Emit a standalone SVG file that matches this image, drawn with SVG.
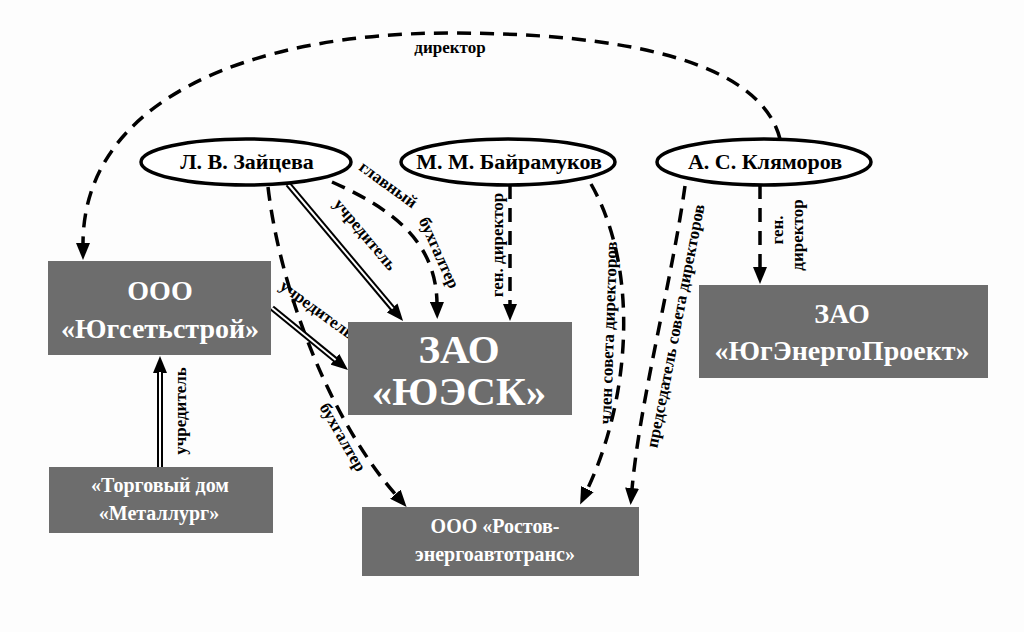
<svg xmlns="http://www.w3.org/2000/svg" width="1024" height="632" viewBox="0 0 1024 632">
<defs>
<marker id="ah" markerUnits="userSpaceOnUse" markerWidth="18" markerHeight="14" refX="1" refY="7" orient="auto" viewBox="0 0 18 14"><path d="M0,0 L17,7 L0,14 z" fill="#000"/></marker>
</defs>
<rect width="1024" height="632" fill="#fdfdfd"/>

<g id="connectors">
<g fill="none" stroke="#000" stroke-width="3.5" stroke-dasharray="14 9" marker-end="url(#ah)">
<path d="M 780 139 C 760 60 620 33 450 33 C 250 33 83 100 83 244"/>
<path d="M 332 182 C 390 208 436 240 437 303"/>
<path d="M 268 187 C 280 290 330 420 396 495"/>
<path d="M 510 185 L 510 305"/>
<path d="M 591 184 C 640 270 630 400 587 490"/>
<path d="M 685 186 C 672 280 640 400 632 489"/>
<path d="M 760 185 L 760 268"/>
</g>
<g fill="none" stroke="#000" stroke-width="6" marker-end="url(#ah)">
<path d="M 288 184 L 392.8 308.7"/>
<path d="M 272 308 L 335.6 359.9"/>
<path d="M 160 467 L 160 372"/>
</g>
<g fill="none" stroke="#fff" stroke-width="2">
<path d="M 288 184 L 392.8 308.7"/>
<path d="M 272 308 L 335.6 359.9"/>
<path d="M 160 467 L 160 372"/>
</g>
<text font-family="Liberation Serif" font-weight="bold" font-size="17" text-anchor="middle" x="450" y="53">директор</text>
<text font-family="Liberation Serif" font-weight="bold" font-size="17" text-anchor="middle" transform="translate(361,238) rotate(50)">учредитель</text>
<text font-family="Liberation Serif" font-weight="bold" font-size="17" text-anchor="middle" transform="translate(385,189) rotate(36)">главный</text>
<text font-family="Liberation Serif" font-weight="bold" font-size="17" text-anchor="middle" transform="translate(434,255) rotate(66)">бухгалтер</text>
<text font-family="Liberation Serif" font-weight="bold" font-size="17" text-anchor="middle" transform="translate(338,440) rotate(60)">бухгалтер</text>
<text font-family="Liberation Serif" font-weight="bold" font-size="17" text-anchor="middle" transform="translate(314,314) rotate(36)">учредитель</text>
<text font-family="Liberation Serif" font-weight="bold" font-size="17" text-anchor="middle" transform="translate(186,411) rotate(-90)">учредитель</text>
<text font-family="Liberation Serif" font-weight="bold" font-size="17" text-anchor="middle" transform="translate(503,245) rotate(-90)">ген. директор</text>
<text font-family="Liberation Serif" font-weight="bold" font-size="17" text-anchor="middle" transform="translate(614,333) rotate(-88)">член совета директоров</text>
<text font-family="Liberation Serif" font-weight="bold" font-size="17" text-anchor="middle" transform="translate(681,327) rotate(-79)">председатель совета директоров</text>
<text font-family="Liberation Serif" font-weight="bold" font-size="17" text-anchor="middle" transform="translate(783,230) rotate(-90)">ген.</text>
<text font-family="Liberation Serif" font-weight="bold" font-size="17" text-anchor="middle" transform="translate(803,235) rotate(-90)">директор</text>
</g>

<g id="zaitseva">
<ellipse cx="246" cy="162" rx="105" ry="23" fill="#fff" stroke="#000" stroke-width="3.5"/>
<text x="247" y="169" font-family="Liberation Serif" font-weight="bold" font-size="22" text-anchor="middle">Л. В. Зайцева</text>
</g>
<g id="bayramukov">
<ellipse cx="508" cy="162" rx="107" ry="23" fill="#fff" stroke="#000" stroke-width="3.5"/>
<text x="509" y="169" font-family="Liberation Serif" font-weight="bold" font-size="22" text-anchor="middle">М. М. Байрамуков</text>
</g>
<g id="klyamorov">
<ellipse cx="764" cy="162" rx="107" ry="23" fill="#fff" stroke="#000" stroke-width="3.5"/>
<text x="765" y="169" font-family="Liberation Serif" font-weight="bold" font-size="22" text-anchor="middle">А. С. Кляморов</text>
</g>

<g id="yugsetstroy">
<rect x="48" y="261" width="223" height="94" fill="#6d6d6d"/>
<text x="160" y="300" fill="#fff" font-family="Liberation Serif" font-weight="bold" font-size="28" text-anchor="middle">ООО</text>
<text x="160" y="338" fill="#fff" font-family="Liberation Serif" font-weight="bold" font-size="28" text-anchor="middle">«Югсетьстрой»</text>
</g>
<g id="torgovy">
<rect x="49" y="467" width="224" height="66" fill="#6d6d6d"/>
<text x="160" y="492" fill="#fff" font-family="Liberation Serif" font-weight="bold" font-size="20" text-anchor="middle">«Торговый дом</text>
<text x="159" y="520" fill="#fff" font-family="Liberation Serif" font-weight="bold" font-size="20" text-anchor="middle">«Металлург»</text>
</g>
<g id="yuesk">
<rect x="348" y="322" width="224" height="93" fill="#6d6d6d"/>
<text x="459" y="363" fill="#fff" font-family="Liberation Serif" font-weight="bold" font-size="41" text-anchor="middle">ЗАО</text>
<text x="459" y="405" fill="#fff" font-family="Liberation Serif" font-weight="bold" font-size="41" text-anchor="middle">«ЮЭСК»</text>
</g>
<g id="rostov">
<rect x="362" y="507" width="277" height="69" fill="#6d6d6d"/>
<text x="495" y="533" fill="#fff" font-family="Liberation Serif" font-weight="bold" font-size="20" text-anchor="middle">ООО «Ростов-</text>
<text x="495" y="561" fill="#fff" font-family="Liberation Serif" font-weight="bold" font-size="20" text-anchor="middle">энергоавтотранс»</text>
</g>
<g id="yugenergoproekt">
<rect x="699" y="285" width="289" height="93" fill="#6d6d6d"/>
<text x="842" y="323" fill="#fff" font-family="Liberation Serif" font-weight="bold" font-size="28" text-anchor="middle">ЗАО</text>
<text x="842" y="360" fill="#fff" font-family="Liberation Serif" font-weight="bold" font-size="28" text-anchor="middle">«ЮгЭнергоПроект»</text>
</g>
</svg>
